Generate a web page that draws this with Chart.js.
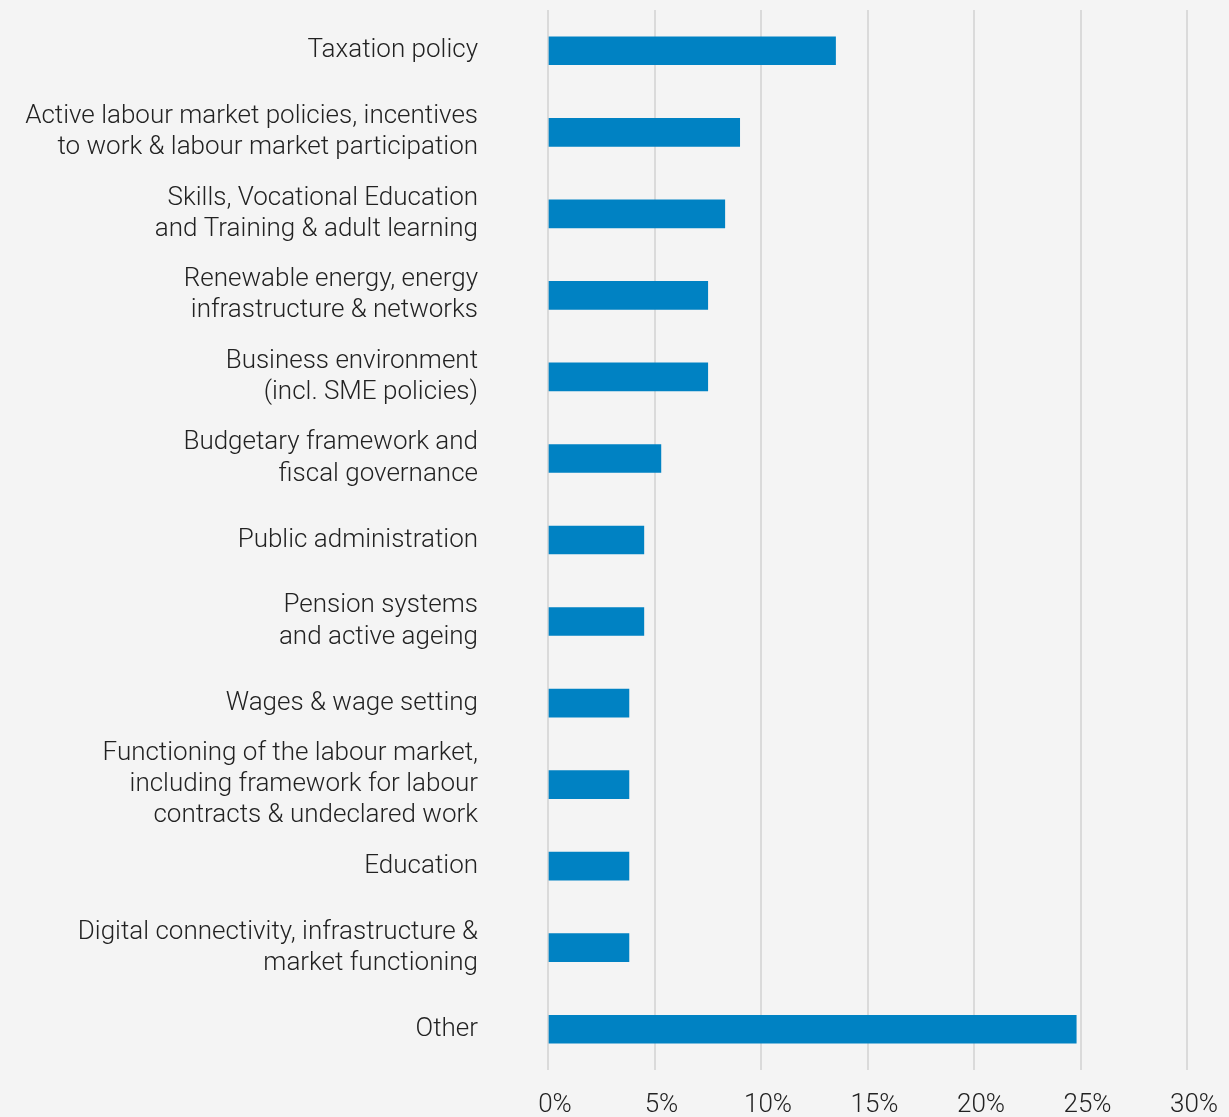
<!DOCTYPE html>
<html>
<head>
<meta charset="utf-8">
<title>Policy areas</title>
<script src="https://cdn.jsdelivr.net/npm/chart.js@4/dist/chart.umd.min.js"></script>
<style>
  html, body { margin: 0; padding: 0; background: #f4f4f4; }
  #wrap { width: 1229px; height: 1117px; position: relative; }
</style>
</head>
<body>
<div id="wrap"><canvas id="myChart"></canvas></div>
<script>
// policy areas, top to bottom
const categories = [
  'Taxation policy',
  ['Active labour market policies, incentives', 'to work & labour market participation'],
  ['Skills, Vocational Education', 'and Training & adult learning'],
  ['Renewable energy, energy', 'infrastructure & networks'],
  ['Business environment', '(incl. SME policies)'],
  ['Budgetary framework and', 'fiscal governance'],
  'Public administration',
  ['Pension systems', 'and active ageing'],
  'Wages & wage setting',
  ['Functioning of the labour market,', 'including framework for labour', 'contracts & undeclared work'],
  'Education',
  ['Digital connectivity, infrastructure &', 'market functioning'],
  'Other'
];

// share of all items, in %
const shares = [13.5, 9.0, 8.3, 7.5, 7.5, 5.3, 4.5, 4.5, 3.8, 3.8, 3.8, 3.8, 24.8];

const xTicks = [0, 5, 10, 15, 20, 25, 30];

const textColor = '#222222';
const fontFamily = 'Roboto, "Open Sans", sans-serif';

var ctx = document.getElementById('myChart').getContext('2d');
var myChart = new Chart(ctx, {
  type: 'bar',
  data: {
    labels: categories,
    datasets: [{
      data: shares,
      backgroundColor: '#0082c3',
      borderWidth: 0,
      barThickness: 28
    }]
  },
  options: {
    indexAxis: 'y',
    responsive: true,
    maintainAspectRatio: false,
    animation: false,
    layout: { padding: { top: 10, right: 42, left: 0, bottom: 0 } },
    plugins: {
      legend: { display: false },
      tooltip: { enabled: false }
    },
    scales: {
      x: {
        min: 0,
        max: 30,
        afterBuildTicks: function(scale) {
          scale.ticks = xTicks.map(v => ({ value: v }));
        },
        afterFit: function(scale) {
          scale.height = 47;
          scale.paddingLeft = 0;
          scale.paddingRight = 0;
        },
        grid: { color: '#dadada', lineWidth: 2, drawTicks: false },
        border: { display: false },
        ticks: {
          padding: 20,
          labelOffset: 7,
          color: textColor,
          font: { family: fontFamily, size: 26, weight: 300 },
          callback: v => v + '%'
        }
      },
      y: {
        afterFit: function(scale) {
          scale.width = 548;
          scale.paddingTop = 0;
          scale.paddingBottom = 0;
        },
        grid: { display: false, drawTicks: false },
        border: { display: false },
        ticks: {
          autoSkip: false,
          padding: 70,
          color: textColor,
          font: { family: fontFamily, size: 26, weight: 300, lineHeight: 1.2 }
        }
      }
    }
  }
});
</script>
</body>
</html>
